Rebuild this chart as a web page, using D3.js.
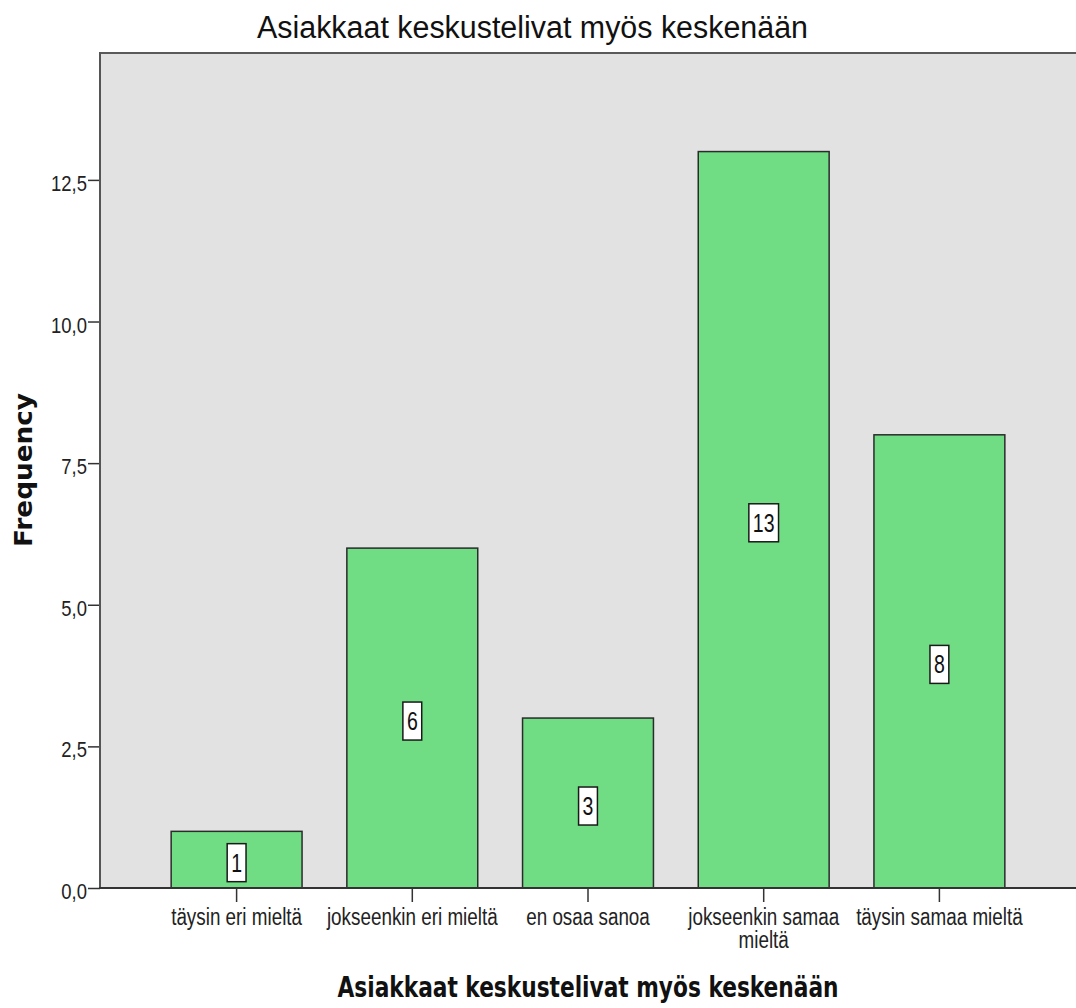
<!DOCTYPE html>
<html>
<head>
<meta charset="utf-8">
<script src="https://cdn.jsdelivr.net/npm/d3@7"></script>
<style>
  html, body { margin: 0; padding: 0; background: #ffffff; }
  svg { display: block; }
</style>
</head>
<body>
<div id="chart"></div>
<script>
// Response categories and their frequencies
const categories = [
  "täysin eri mieltä",
  "jokseenkin eri mieltä",
  "en osaa sanoa",
  "jokseenkin samaa mieltä",
  "täysin samaa mieltä"
];
const frequencies = [1, 6, 3, 13, 8];
const yTicks = [0, 2.5, 5, 7.5, 10, 12.5];
const chartTitle = "Asiakkaat keskustelivat myös keskenään";
const xTitle = "Asiakkaat keskustelivat myös keskenään";
const yTitle = "Frequency";

const W = 1076, H = 1008;
const plot = { left: 100, top: 53, right: 1076, bottom: 888 };
const sansFont = "'Liberation Sans', Arial, sans-serif";

const svg = d3.select("#chart").append("svg")
  .attr("width", W).attr("height", H);

const x = d3.scaleBand()
  .domain(categories)
  .range([plot.left, plot.right])
  .paddingInner(0.255)
  .paddingOuter(0.405);

const y = d3.scaleLinear()
  .domain([0, 14.74])
  .range([plot.bottom, plot.top]);

const fmt = v => d3.format(".1f")(v).replace(".", ",");

// Plot background
svg.append("rect")
  .attr("x", plot.left).attr("y", plot.top)
  .attr("width", plot.right - plot.left)
  .attr("height", plot.bottom - plot.top)
  .attr("fill", "#e2e2e2");

// Frame: top edge
svg.append("line")
  .attr("x1", plot.left).attr("x2", plot.right)
  .attr("y1", plot.top).attr("y2", plot.top)
  .attr("stroke", "#5a5a5a").attr("stroke-width", 2);

// Bars
svg.append("g").selectAll("rect")
  .data(categories)
  .join("rect")
  .attr("x", d => x(d))
  .attr("y", (d, i) => y(frequencies[i]))
  .attr("width", x.bandwidth())
  .attr("height", (d, i) => y(0) - y(frequencies[i]))
  .attr("fill", "#70dc84")
  .attr("stroke", "#2b2b2b")
  .attr("stroke-width", 1.5);

// Y axis ticks (labels drawn separately in a narrowed face)
const yAxis = svg.append("g")
  .attr("transform", `translate(${plot.left},0)`)
  .call(d3.axisLeft(y).tickValues(yTicks).tickFormat("").tickSize(12));
yAxis.select(".domain").remove();
yAxis.selectAll(".tick line").attr("stroke", "#333").attr("stroke-width", 1.5);

const yLab = svg.append("g")
  .style("font-family", sansFont)
  .style("font-size", "22px")
  .attr("fill", "#222");
yTicks.forEach(t => {
  yLab.append("text")
    .attr("transform", `translate(87,${y(t) + 11}) scale(0.84,1)`)
    .attr("text-anchor", "end")
    .text(fmt(t));
});

svg.append("line")
  .attr("x1", plot.left).attr("x2", plot.left)
  .attr("y1", plot.top - 1).attr("y2", plot.bottom)
  .attr("stroke", "#555").attr("stroke-width", 2);

// X axis
const xAxis = svg.append("g")
  .attr("transform", `translate(0,${plot.bottom})`)
  .call(d3.axisBottom(x).tickSize(14).tickFormat(() => ""));
xAxis.select(".domain").remove();
xAxis.selectAll(".tick line").attr("stroke", "#333").attr("stroke-width", 1.5);
svg.append("line")
  .attr("x1", plot.left - 1).attr("x2", plot.right)
  .attr("y1", plot.bottom).attr("y2", plot.bottom)
  .attr("stroke", "#333").attr("stroke-width", 2);

// Category labels, wrapped where the label is too long for its slot
const wrap = {
  "jokseenkin samaa mieltä": ["jokseenkin samaa", "mieltä"]
};
const catLabels = svg.append("g")
  .style("font-family", sansFont)
  .style("font-size", "23px")
  .attr("fill", "#222")
  .attr("text-anchor", "middle");
categories.forEach(c => {
  const lines = wrap[c] || [c];
  const cx = x(c) + x.bandwidth() / 2;
  lines.forEach((l, i) => {
    catLabels.append("text")
      .attr("transform", `translate(${cx},${925 + i * 23}) scale(0.82,1)`)
      .text(l);
  });
});

// Value labels inside bars
const valG = svg.append("g");
categories.forEach((c, i) => {
  const cx = x(c) + x.bandwidth() / 2;
  const cy = y(frequencies[i] / 2);
  const g = valG.append("g");
  const txt = g.append("text")
    .attr("transform", `translate(${cx},${cy + 12}) scale(0.75,1)`)
    .attr("text-anchor", "middle")
    .style("font-family", sansFont)
    .style("font-size", "26px")
    .attr("fill", "#111")
    .text(frequencies[i]);
  const w = txt.node().getComputedTextLength() * 0.75 + 8;
  g.insert("rect", "text")
    .attr("x", cx - w / 2).attr("y", cy - 16)
    .attr("width", w).attr("height", 38)
    .attr("fill", "#ffffff")
    .attr("stroke", "#1a1a1a")
    .attr("stroke-width", 1.5);
});

// Title
svg.append("text")
  .attr("x", 532.5).attr("y", 38)
  .attr("text-anchor", "middle")
  .attr("textLength", 551)
  .attr("lengthAdjust", "spacingAndGlyphs")
  .style("font-family", sansFont)
  .style("font-size", "31px")
  .attr("fill", "#111")
  .text(chartTitle);

// X axis title, centred on the plot area
svg.append("text")
  .attr("x", (plot.left + plot.right) / 2).attr("y", 997)
  .attr("text-anchor", "middle")
  .attr("textLength", 501)
  .attr("lengthAdjust", "spacingAndGlyphs")
  .style("font-family", "'DejaVu Sans Condensed', 'DejaVu Sans', sans-serif")
  .style("font-weight", "bold")
  .style("font-size", "29px")
  .attr("fill", "#111")
  .text(xTitle);

// Y axis title
svg.append("text")
  .attr("transform", "translate(32,470) rotate(-90)")
  .attr("text-anchor", "middle")
  .attr("textLength", 154)
  .attr("lengthAdjust", "spacingAndGlyphs")
  .style("font-family", "'DejaVu Sans', sans-serif")
  .style("font-weight", "bold")
  .style("font-size", "25px")
  .attr("fill", "#111")
  .text(yTitle);
</script>
</body>
</html>
